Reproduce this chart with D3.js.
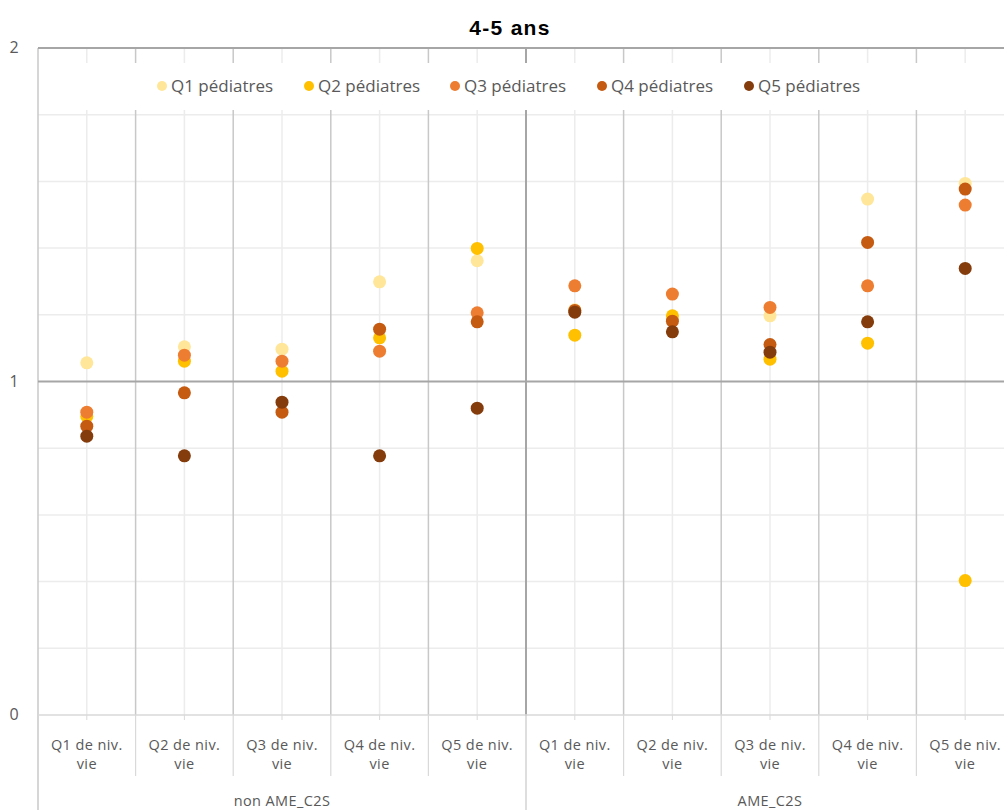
<!DOCTYPE html>
<html><head><meta charset="utf-8">
<script src="https://cdn.jsdelivr.net/npm/d3@7"></script>
<style>body{margin:0;background:#fff}svg{display:block}</style>
</head><body>
<script>
const categories = ["Q1 de niv. vie","Q2 de niv. vie","Q3 de niv. vie","Q4 de niv. vie","Q5 de niv. vie",
                    "Q1 de niv. vie","Q2 de niv. vie","Q3 de niv. vie","Q4 de niv. vie","Q5 de niv. vie"];
const groups = ["non AME_C2S","AME_C2S"];
const seriesNames = ["Q1 pédiatres","Q2 pédiatres","Q3 pédiatres","Q4 pédiatres","Q5 pédiatres"];
const seriesColors = ["#FFE699","#FFC000","#ED7D31","#C55A11","#843C0C"];
const q1 = [1.056,1.104,1.097,1.299,1.362,1.215,1.190,1.197,1.547,1.594];
const q2 = [0.895,1.061,1.031,1.131,1.399,1.139,1.197,1.067,1.115,0.403];
const q3 = [0.908,1.079,1.061,1.091,1.206,1.287,1.262,1.222,1.287,1.529];
const q4 = [0.866,0.966,0.908,1.157,1.179,1.213,1.181,1.111,1.417,1.577];
const q5 = [0.836,0.777,0.938,0.777,0.920,1.208,1.149,1.088,1.179,1.339];
const yTicks = [0,1,2];
const yGrid = [0.2,0.4,0.6,0.8,1.2,1.4,1.6,1.8];
const series = [q1,q2,q3,q4,q5];

(function(){
const W=1004,H=810;
const svg=d3.select("body").append("svg").attr("width",W).attr("height",H);
const pLeft=38, pTop=48, pBottom=715, step=97.6;
const x=d3.scaleBand().domain(d3.range(categories.length)).range([pLeft,pLeft+step*categories.length]).padding(0);
const y=d3.scaleLinear().domain([0,2]).range([pBottom,pTop]);
const cx=i=>x(i)+x.bandwidth()/2;

svg.append("text").attr("x",510).attr("y",35).attr("text-anchor","middle")
  .attr("font-family","Liberation Sans, Arial, sans-serif").attr("font-weight","bold").attr("font-size",21)
  .attr("letter-spacing",1.3).attr("fill","#000").text("4-5 ans");

const g=svg.append("g");
g.selectAll(".hg").data(yGrid).join("line")
  .attr("x1",pLeft).attr("x2",W).attr("y1",d=>y(d)).attr("y2",d=>y(d))
  .attr("stroke","#ececec").attr("stroke-width",1.5);
g.selectAll(".vc").data(d3.range(categories.length)).join("line")
  .attr("x1",cx).attr("x2",cx).attr("y1",pTop).attr("y2",pBottom)
  .attr("stroke","#ececec").attr("stroke-width",1.5);
g.selectAll(".vs").data(d3.range(1,categories.length)).join("line")
  .attr("x1",d=>x(d)).attr("x2",d=>x(d)).attr("y1",pTop).attr("y2",pBottom)
  .attr("stroke",d=>d===5?"#a6a6a6":"#c8c8c8").attr("stroke-width",d=>d===5?2:1.5);
g.append("line").attr("x1",pLeft).attr("x2",pLeft).attr("y1",pTop).attr("y2",H)
  .attr("stroke","#c8c8c8").attr("stroke-width",1.5);
g.selectAll(".hm").data([1,2]).join("line")
  .attr("x1",pLeft).attr("x2",W).attr("y1",d=>y(d)).attr("y2",d=>y(d))
  .attr("stroke","#a6a6a6").attr("stroke-width",2);
g.append("line").attr("x1",pLeft).attr("x2",W).attr("y1",pBottom).attr("y2",pBottom)
  .attr("stroke","#d9d9d9").attr("stroke-width",1.5);
g.selectAll(".bt").data(d3.range(1,categories.length)).join("line")
  .attr("x1",d=>x(d)).attr("x2",d=>x(d)).attr("y1",pBottom).attr("y2",d=>d===5?H:776)
  .attr("stroke",d=>d===5?"#c8c8c8":"#d9d9d9").attr("stroke-width",1.2);
g.selectAll(".ct").data(d3.range(categories.length)).join("line")
  .attr("x1",cx).attr("x2",cx).attr("y1",pBottom).attr("y2",pBottom+5)
  .attr("stroke","#d9d9d9").attr("stroke-width",1);

svg.selectAll(".yl").data(yTicks).join("text")
  .attr("x",14).attr("y",d=>y(d)+5).attr("text-anchor","middle")
  .attr("font-family","Open Sans, sans-serif").attr("font-size",16).attr("fill","#595959").text(d=>d);

const cl=svg.selectAll(".cl").data(categories).join("text")
  .attr("text-anchor","middle").attr("font-family","Open Sans, sans-serif").attr("font-size",14.5)
  .attr("letter-spacing",0.4).attr("fill","#595959");
cl.append("tspan").attr("x",(d,i)=>cx(i)).attr("y",750).text(d=>d.split(" vie")[0]);
cl.append("tspan").attr("x",(d,i)=>cx(i)).attr("y",769).text("vie");
svg.selectAll(".gl").data(groups).join("text")
  .attr("x",(d,i)=>(x(i*5)+x(i*5+4)+x.bandwidth())/2).attr("y",806).attr("text-anchor","middle")
  .attr("font-family","Open Sans, sans-serif").attr("font-size",14.5).attr("letter-spacing",0.4)
  .attr("fill","#595959").text(d=>d);

svg.append("rect").attr("x",45).attr("y",63).attr("width",950).attr("height",47).attr("fill","#fff");
const lx=[162,309,455,602,749];
const lg=svg.selectAll(".lg").data(seriesNames).join("g").attr("transform",(d,i)=>`translate(${lx[i]},86)`);
lg.append("circle").attr("r",5).attr("fill",(d,i)=>seriesColors[i]);
lg.append("text").attr("x",9).attr("y",6).attr("font-family","Open Sans, sans-serif").attr("font-size",17)
  .attr("fill","#595959").text(d=>d);

series.forEach((s,k)=>{
  svg.append("g").selectAll("circle").data(s).join("circle")
    .attr("cx",(d,i)=>cx(i)).attr("cy",d=>y(d)).attr("r",6.5).attr("fill",seriesColors[k]);
});
})();
</script>
</body></html>
